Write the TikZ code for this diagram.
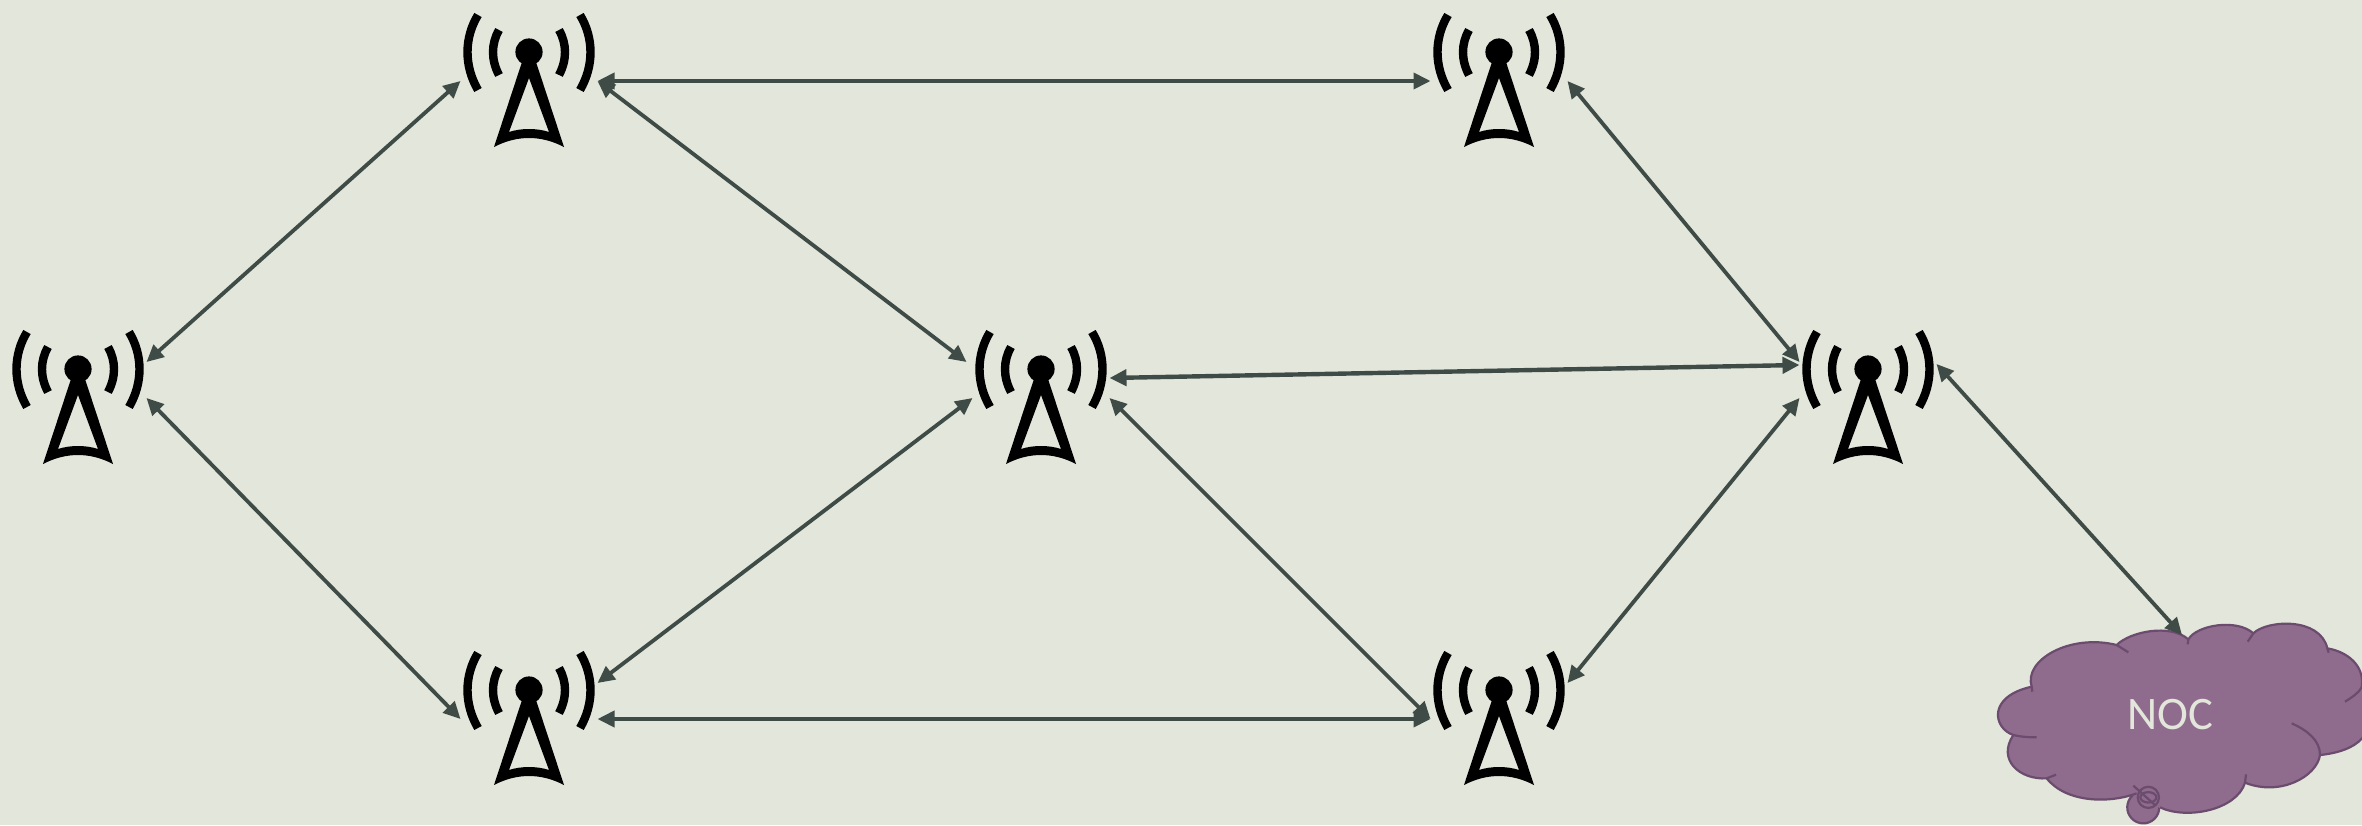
\documentclass[tikz,border=0pt]{standalone}
\usepackage{fontspec}
\setmainfont{Carlito}
\usetikzlibrary{arrows.meta}
\definecolor{bgc}{HTML}{E3E6DA}
\definecolor{linkc}{HTML}{3F4B47}
\definecolor{cloudf}{HTML}{8F6B8D}
\definecolor{cloudl}{HTML}{6B4C6E}
\tikzset{
  x=0.5pt,y=-0.5pt,
  link/.style={draw=linkc,line width=1.9pt,{Triangle[length=8.5pt,width=8pt]}-{Triangle[length=8.5pt,width=8pt]}},
  port/.style={rectangle,minimum width=68.5pt,minimum height=18pt,inner sep=0pt,outer sep=0pt},
  wave/.style={line width=4.2pt,black},
  cloudline/.style={draw=cloudl,line width=1.1pt},
  pics/mast/.style={code={
    \fill[black] (0,0) circle (6.8pt);
    \draw[wave] (-51,-37) .. controls (-65,-14) and (-65,14) .. (-51,38);
    \draw[wave] (51,-37) .. controls (65,-14) and (65,14) .. (51,38);
    \draw[wave] (-30,-22) .. controls (-38,-8) and (-38,8) .. (-30,23);
    \draw[wave] (30,-22) .. controls (38,-8) and (38,8) .. (30,23);
    \fill[black,even odd rule] (-7,10) -- (7,10) -- (35,95) .. controls (12,83) and (-12,83) .. (-35,95) -- cycle
      (0,26) -- (20,80) .. controls (8,76) and (-8,76) .. (-20,80) -- cycle;
  }}
}
\newcommand{\tower}[3]{%
  \pic at (#2,#3) {mast};
  \node[port] (#1) at (#2,#3+11) {};
}
\begin{document}
\begin{tikzpicture}
\useasboundingbox (0,0) rectangle (2362,825);
\fill[bgc] (0,0) rectangle (2362,825);
\begin{scope}
\clip (0,0) rectangle (2362,825);
\begin{scope}[shift={(1970,600)},x=0.1666667pt,y=-0.1666667pt]
  \fill[cloudf] (520,622) circle (8pt);
  \fill[cloudf] (440,135)
    .. controls (480,95) and (600,70) .. (655,118)
    .. controls (680,75) and (800,55) .. (850,100)
    .. controls (890,60) and (1050,50) .. (1072,145)
    .. controls (1130,155) and (1185,195) .. (1175,262)
    .. controls (1205,300) and (1210,380) .. (1176,415)
    .. controls (1150,445) and (1100,460) .. (1050,465)
    .. controls (1040,530) and (930,590) .. (825,548)
    .. controls (800,630) and (650,660) .. (570,622)
    -- (500,580)
    .. controls (420,610) and (290,610) .. (230,535)
    .. controls (150,540) and (80,480) .. (130,405)
    .. controls (70,385) and (50,290) .. (185,260)
    .. controls (160,180) and (300,100) .. (440,135) -- cycle;
  \draw[cloudline] (500,580)
    .. controls (420,610) and (290,610) .. (230,535)
    .. controls (150,540) and (80,480) .. (130,405)
    .. controls (70,385) and (50,290) .. (185,260)
    .. controls (160,180) and (300,100) .. (440,135)
    .. controls (480,95) and (600,70) .. (655,118)
    .. controls (680,75) and (800,55) .. (850,100)
    .. controls (890,60) and (1050,50) .. (1072,145)
    .. controls (1130,155) and (1185,195) .. (1175,262)
    .. controls (1205,300) and (1210,380) .. (1176,415)
    .. controls (1150,445) and (1100,460) .. (1050,465)
    .. controls (1040,530) and (930,590) .. (825,548)
    .. controls (800,630) and (650,660) .. (570,622);
  \draw[cloudline] (487,587) arc[start angle=133,end angle=360,radius=8pt];
  \draw[cloudline] (535,592) circle (5.3pt);
  \draw[cloudline] (535,592) ellipse (4pt and 2.6pt);
  \draw[cloudline] (490,557) -- (555,615);
  \draw[cloudline] (440,135) -- (475,157);
  \draw[cloudline] (655,118) -- (653,133);
  \draw[cloudline] (850,100) -- (833,125);
  \draw[cloudline] (1072,145) -- (1076,158);
  \draw[cloudline] (1175,262) .. controls (1165,280) and (1145,292) .. (1125,305);
  \draw[cloudline] (1050,465) .. controls (1050,420) and (1010,390) .. (965,370);
  \draw[cloudline] (825,548) -- (828,523);
  \draw[cloudline] (230,535) -- (258,524);
  \draw[cloudline] (130,405) .. controls (150,410) and (175,412) .. (200,412);
  \draw[cloudline] (185,260) -- (187,275);
\end{scope}
\end{scope}
\node[text=bgc,font=\fontsize{23.3pt}{26pt}\selectfont,inner sep=0pt] (noc) at (2170,715) {NOC};
\coordinate (nocin) at (2182,635);
\tower{a}{78}{369}
\tower{b}{529}{52}
\tower{c}{1499}{52}
\tower{e}{1041}{369}
\tower{f}{1868}{369}
\tower{d}{529}{690}
\tower{g}{1499}{690}
\draw[link] (a.north east) -- (b.south west);
\draw[link] (a.south east) -- (d.south west);
\draw[link] (b.south east) -- (c.south west);
\draw[link] (b.south east) -- ([xshift=-3pt]e.north west);
\draw[link] (e.south west) -- (d.north east);
\draw[link] (d.south east) -- (g.south west);
\draw[link] (e.south east) -- (g.south west);
\draw[link,line width=2.2pt] ([yshift=10pt]e.south east) -- ([yshift=-1.5pt]f.north west);
\draw[link] (c.south east) -- (f.north west);
\draw[link] (g.north east) -- (f.south west);
\draw[link] ([yshift=-1pt]f.north east) -- (nocin);
\end{tikzpicture}
\end{document}
